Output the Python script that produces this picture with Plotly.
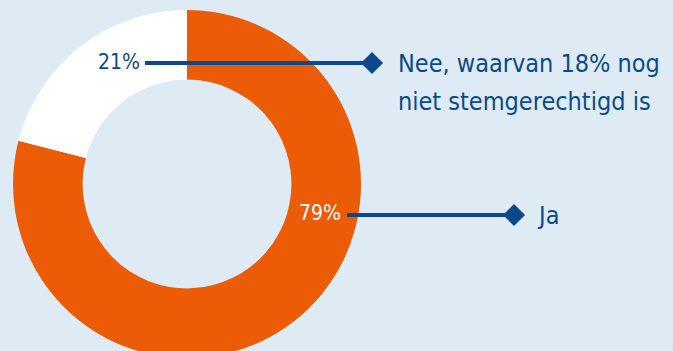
import plotly.graph_objects as go

# ---- data ----
categories = ["Ja", "Nee"]
values = [79, 21]
legend_lines = {
    "Ja": ["Ja"],
    "Nee": ["Nee, waarvan 18% nog", "niet stemgerechtigd is"],
}

# ---- style ----
W, H = 673, 360
BG = "#DFEBF4"
ORANGE = "#EC5B06"
WHITE = "#FFFFFF"
BLUE = "#0A4A8C"
FONT = "DejaVu Sans Condensed, sans-serif"

cx, cy, R = 187, 184, 174  # donut centre / radius in px

fig = go.Figure()
fig.add_trace(go.Pie(
    labels=categories, values=values,
    marker=dict(colors=[ORANGE, WHITE], line=dict(width=0)),
    hole=0.6, sort=False, direction="clockwise", rotation=0,
    textinfo="none", hoverinfo="label+percent", showlegend=False,
    domain=dict(x=[(cx - R) / W, (cx + R) / W],
                y=[1 - (cy + R) / H, 1 - (cy - R) / H]),
))

# leader layout (pixel positions)
pct_pos = {"Nee": (119, 62, BLUE), "Ja": (320, 213, WHITE)}
line_pos = {"Nee": (145, 372, 63), "Ja": (347, 514, 215)}
text_pos = {"Nee": (396, [63, 101]), "Ja": (535, [215])}

shapes = []
annotations = []
dx, dy = [], []
for cat, v in zip(categories, values):
    px, py, col = pct_pos[cat]
    annotations.append(dict(x=px, y=py, xref="x", yref="y", text=f"{v}%",
                            showarrow=False, xanchor="center", yanchor="middle",
                            font=dict(family=FONT, size=21, color=col)))
    x0, x1, ly = line_pos[cat]
    shapes.append(dict(type="line", xref="x", yref="y", x0=x0, x1=x1, y0=ly, y1=ly,
                       line=dict(color=BLUE, width=4)))
    dx.append(x1)
    dy.append(ly)
    tx, tys = text_pos[cat]
    for line, ty in zip(legend_lines[cat], tys):
        annotations.append(dict(x=tx, y=ty, xref="x", yref="y", text=line,
                                showarrow=False, xanchor="left", yanchor="middle",
                                font=dict(family=FONT, size=25, color=BLUE)))

fig.add_trace(go.Scatter(x=dx, y=dy, mode="markers", hoverinfo="skip", showlegend=False,
                         marker=dict(symbol="diamond", size=17, color=BLUE,
                                     line=dict(width=0))))

fig.update_layout(
    width=W, height=H,
    margin=dict(l=0, r=0, t=0, b=0),
    paper_bgcolor=BG, plot_bgcolor="rgba(0,0,0,0)",
    xaxis=dict(range=[0, W], visible=False, fixedrange=True),
    yaxis=dict(range=[H, 0], visible=False, fixedrange=True),
    shapes=shapes, annotations=annotations,
)

fig.write_html("out.html", config={"displayModeBar": False},
               post_script="document.body.style.margin='0';document.body.style.overflow='hidden';")
